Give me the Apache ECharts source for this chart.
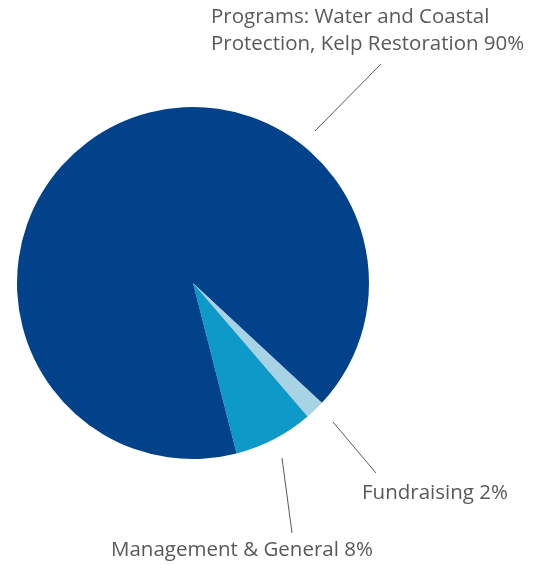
<!DOCTYPE html>
<html>
<head>
<meta charset="utf-8">
<script src="https://cdn.jsdelivr.net/npm/echarts@6/dist/echarts.min.js"></script>
<style>
  html, body { margin: 0; padding: 0; background: #fff; }
  #chart { width: 542px; height: 565px; }
</style>
</head>
<body>
<div id="chart"></div>
<script>
// slices in clockwise order, starting from the fundraising wedge
const names = ['Fundraising', 'Management & General', 'Programs: Water and Coastal\nProtection, Kelp Restoration'];
const shares = [1.8, 7.3, 90.9];          // slice sizes as drawn
const percentLabels = ['2%', '8%', '90%']; // printed figures
const colors = ['#a7d3e4', '#0e9ac8', '#01428a'];

// label anchor (top-left) and leader line ends, per slice
const labelSpots = [
  { x: 362, y: 480, line: [[333, 422], [376, 473]] },
  { x: 111, y: 537, line: [[282, 458], [292, 533]] },
  { x: 211, y: 4, line: [[315, 131], [381, 64]] }
];

const chart = echarts.init(document.getElementById('chart'));

chart.setOption({
  animation: false,
  series: [{
    type: 'pie',
    center: [193, 283],
    radius: 176,
    startAngle: -42.9,
    clockwise: true,
    avoidLabelOverlap: false,
    data: names.map((n, i) => ({
      name: n,
      value: shares[i],
      itemStyle: { color: colors[i] }
    })),
    label: {
      show: true,
      position: 'outside',
      formatter: p => p.name + ' ' + percentLabels[p.dataIndex],
      fontFamily: 'Open Sans',
      fontSize: 20.5,
      lineHeight: 27,
      color: '#58595b'
    },
    labelLine: {
      show: true,
      lineStyle: { color: '#58595b', width: 1 }
    },
    labelLayout: params => {
      const s = labelSpots[params.dataIndex];
      return {
        x: s.x,
        y: s.y,
        align: 'left',
        verticalAlign: 'top',
        labelLinePoints: [s.line[0], s.line[1], s.line[1]]
      };
    },
    emphasis: { disabled: true }
  }]
});
</script>
</body>
</html>
